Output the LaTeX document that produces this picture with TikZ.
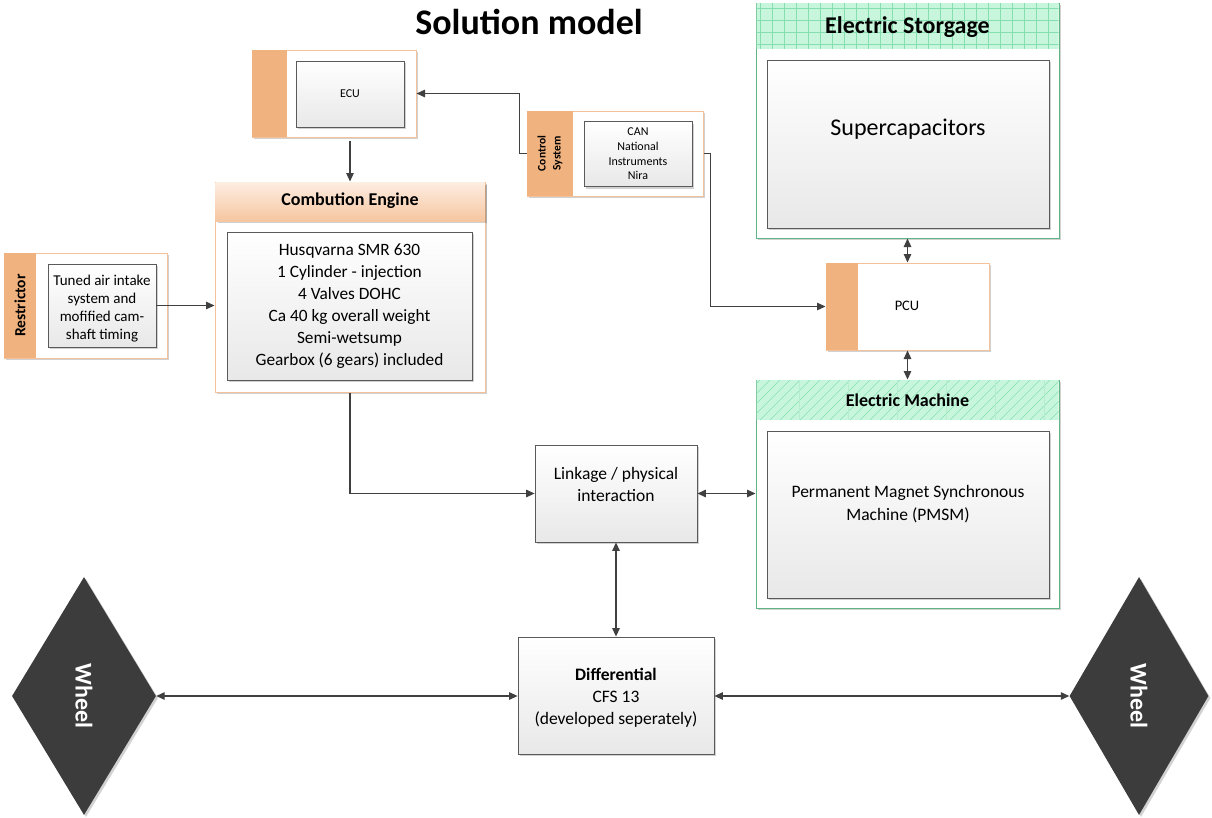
\documentclass[tikz,border=0pt]{standalone}
\usepackage{fontspec}
\setmainfont{Carlito}
\usetikzlibrary{arrows.meta,shapes.geometric,shadows,calc}

\definecolor{ink}{HTML}{404040}
\definecolor{orstrip}{HTML}{F0B27E}
\definecolor{orline}{HTML}{F3C19A}
\definecolor{orhdtop}{HTML}{FDEDE1}
\definecolor{orhdbot}{HTML}{F6C6A0}
\definecolor{grfill}{HTML}{C8F6DD}
\definecolor{grline}{HTML}{86DFB0}
\definecolor{grframe}{HTML}{5FB585}
\definecolor{boxline}{HTML}{5A5A5A}
\definecolor{wheelfill}{HTML}{3C3C3C}

\newcommand\fsz[2]{\fontsize{#1}{#2}\selectfont}

\begin{document}
\begin{tikzpicture}[x=1pt,y=-1pt,
  shade/.style={drop shadow={shadow xshift=2pt,shadow yshift=-2pt,fill=black,opacity=0.18}},
  frame/.style={draw=orline,fill=white,line width=1pt,inner sep=0pt,shade},
  gframe/.style={draw=grframe,fill=white,line width=1pt,inner sep=0pt,shade},
  inbox/.style={draw=boxline,line width=0.8pt,top color=white,bottom color=black!9,
    align=center,inner sep=0pt,shade},
  txt/.style={align=center,inner sep=0pt},
  wheel/.style={diamond,fill=wheelfill,inner sep=0pt,minimum width=144pt,
    minimum height=238pt,text=white,font=\bfseries\fsz{24}{28},shade},
  arr/.style={draw=ink,line width=1.2pt,-{Triangle[length=8.5pt,width=7.5pt]}},
  darr/.style={draw=ink,line width=1.2pt,{Triangle[length=8.5pt,width=7.5pt]}-{Triangle[length=8.5pt,width=7.5pt]}},
]
\useasboundingbox (0,0) rectangle (1212,817);

% title
\node[font=\bfseries\fsz{36}{40}] (title) at (529,22) {Solution model};

% ECU
\node[frame,minimum width=164pt,minimum height=87pt] (ecu) at (334,93.5) {};
\fill[orstrip] (252,50) rectangle (287,137);
\node[inbox,minimum width=108pt,minimum height=66pt,font=\fsz{12}{15}] (ecuin) at (350,94) {ECU};

% Control system
\node[frame,minimum width=176pt,minimum height=85pt] (ctrl) at (615,153.5) {};
\fill[orstrip] (527,111) rectangle (573,196);
\node[rotate=90,font=\bfseries\fsz{11.5}{15},align=center] (ctrllab) at (550,153.5) {Control\\System};
\node[inbox,minimum width=108pt,minimum height=65pt,font=\fsz{12}{14.6}] (ctrlin) at (638,154)
  {CAN\\National\\Instruments\\Nira};

% Restrictor
\node[frame,minimum width=163pt,minimum height=105pt] (restr) at (85.5,305.5) {};
\fill[orstrip] (4,253) rectangle (36,358);
\node[rotate=90,font=\bfseries\fsz{15.5}{18}] (restrlab) at (20,305.5) {Restrictor};
\node[inbox,minimum width=108pt,minimum height=83pt] (restrin) at (102,305.5) {};
\node[txt,font=\fsz{15}{18}] (restrtxt) at (102,308.5)
  {Tuned air intake\\system and\\mofified cam-\\shaft timing};

% Combustion engine
\node[frame,minimum width=270pt,minimum height=210pt] (ce) at (350,287) {};
\shade[top color=orhdtop,bottom color=orhdbot] (215.5,182.5) rectangle (484.5,221);
\node[font=\bfseries\fsz{18}{22}] (cehead) at (350,201) {Combution Engine};
\node[inbox,minimum width=245pt,minimum height=148pt,font=\fsz{17.3}{22}] (cein) at (349.5,306)
  {Husqvarna SMR 630\\1 Cylinder - injection\\4 Valves DOHC\\Ca 40 kg overall weight\\Semi-wetsump\\Gearbox (6 gears) included};

% Electric storage
\node[gframe,minimum width=303pt,minimum height=235pt] (es) at (907.5,120.5) {};
\begin{scope}
  \clip (756.5,3.5) rectangle (1058.5,49);
  \fill[grfill] (756,3) rectangle (1059,49);
  \foreach \gx in {760,772,...,1060} \draw[grline,line width=0.6pt] (\gx,3) -- (\gx,49);
  \foreach \gy in {8,20,...,49} \draw[grline,line width=0.6pt] (756,\gy) -- (1059,\gy);
\end{scope}
\node[font=\bfseries\fsz{24}{28}] (eshead) at (907.5,27) {Electric Storgage};
\node[inbox,minimum width=282pt,minimum height=168pt] (esin) at (908,144) {};
\node[txt,font=\fsz{24}{28}] (estxt) at (908,129) {Supercapacitors};

% PCU
\node[frame,minimum width=163pt,minimum height=87pt] (pcu) at (907.5,306.5) {};
\fill[orstrip] (826,263) rectangle (858,350);
\node[font=\fsz{14.5}{17}] (pculab) at (907,306) {PCU};

% Electric machine
\node[gframe,minimum width=303pt,minimum height=228pt] (em) at (907.5,494) {};
\begin{scope}
  \clip (756.5,380.5) rectangle (1058.5,420);
  \fill[grfill] (756,380) rectangle (1059,420);
  \foreach \hx in {700,710,...,1070} \draw[grline,line width=0.6pt] (\hx,420) -- (\hx+40,380);
  \foreach \vx in {799,848,...,1059} \draw[grline!60,line width=0.5pt] (\vx,380) -- (\vx,420);
\end{scope}
\node[font=\bfseries\fsz{18}{22}] (emhead) at (907.5,400) {Electric Machine};
\node[inbox,minimum width=282pt,minimum height=167pt] (emin) at (908,514.5) {};
\node[txt,font=\fsz{17.5}{23}] (emtxt) at (908,504)
  {Permanent Magnet Synchronous\\Machine (PMSM)};

% Linkage and differential
\node[inbox,minimum width=162pt,minimum height=97pt] (link) at (616,493.5) {};
\node[txt,font=\fsz{17.5}{22}] (linktxt) at (616,484)
  {Linkage / physical\\interaction};
\node[inbox,minimum width=196pt,minimum height=117pt] (diff) at (616,695.5) {};
\node[txt,font=\fsz{17.5}{22}] (difftxt) at (616,697.5)
  {\textbf{Differential}\\CFS 13\\(developed seperately)};

% wheels
\node[wheel] (wl) at (84,696) {\rotatebox{-90}{Wheel}};
\node[wheel,minimum width=139pt] (wr) at (1139,696) {\rotatebox{-90}{Wheel}};

% connectors
\draw[arr] (ctrl.west) -- ++(-7,0) |- (ecu.east);
\draw[arr] (ecuin.center |- ecu.south) ++(0,3) -- (ecuin.center |- ce.north);
\draw[arr] (restrin.east) -- (ce.west |- restrin.east);
\draw[arr] (ce.south) |- (link.west);
\draw[arr] (ctrl.east) -- ++(7,0) |- (pcu.west);
\draw[darr] (es.south) -- (pcu.north);
\draw[darr] (pcu.south) -- (em.north);
\draw[darr] (link.east) -- (em.west |- link.east);
\draw[darr] (link.south) -- (diff.north);
\draw[darr] (wl.east) -- (diff.west |- wl.east);
\draw[darr] (diff.east |- wr.west) -- (wr.west);
\end{tikzpicture}
\end{document}
